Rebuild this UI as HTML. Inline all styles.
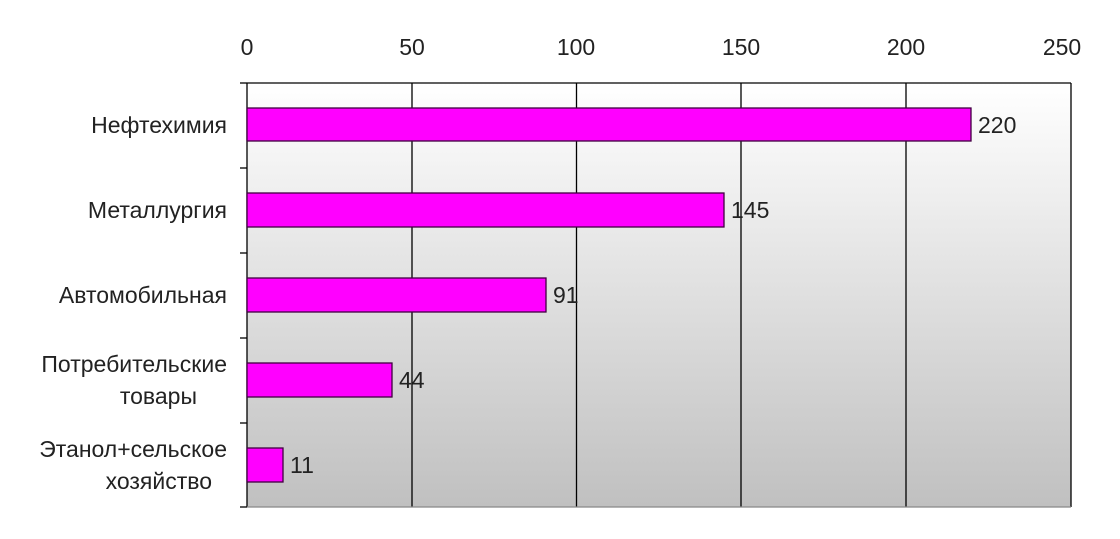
<!DOCTYPE html>
<html><head><meta charset="utf-8"><style>body{margin:0;background:#fff}</style></head><body>
<svg width="1120" height="534" xmlns="http://www.w3.org/2000/svg" font-family="Liberation Sans, sans-serif" font-size="23" fill="#222">
<defs><linearGradient id="g" x1="0" y1="0" x2="0" y2="1"><stop offset="0" stop-color="#ffffff"/><stop offset="1" stop-color="#c0c0c0"/></linearGradient></defs>
<rect x="247" y="83" width="824" height="424" fill="url(#g)"/>
<g stroke="#000" stroke-width="1.3">
<line x1="412" y1="83" x2="412" y2="507"/><line x1="576.5" y1="83" x2="576.5" y2="507"/><line x1="741" y1="83" x2="741" y2="507"/><line x1="906" y1="83" x2="906" y2="507"/><line x1="1071" y1="83" x2="1071" y2="507"/>
<line x1="247" y1="83" x2="1071" y2="83"/>
<line x1="247" y1="83" x2="247" y2="507"/>
<line x1="240" y1="83" x2="247" y2="83"/><line x1="240" y1="168" x2="247" y2="168"/><line x1="240" y1="253" x2="247" y2="253"/><line x1="240" y1="338" x2="247" y2="338"/><line x1="240" y1="423" x2="247" y2="423"/><line x1="240" y1="507" x2="247" y2="507"/>
</g>
<line x1="247" y1="507" x2="1071" y2="507" stroke="#888" stroke-width="1.3"/>
<g fill="#ff00ff" stroke="#400040" stroke-width="1.3">
<rect x="247" y="108" width="724" height="33"/>
<rect x="247" y="193" width="477" height="34"/>
<rect x="247" y="278" width="299" height="34"/>
<rect x="247" y="363" width="145" height="34"/>
<rect x="247" y="448" width="36" height="34"/>
</g>
<g text-anchor="middle">
<text x="247" y="55">0</text><text x="412" y="55">50</text><text x="576" y="55">100</text><text x="741" y="55">150</text><text x="906" y="55">200</text><text x="1062" y="55">250</text>
</g>
<g>
<text x="978" y="133">220</text><text x="731" y="218">145</text><text x="553" y="303">91</text><text x="399" y="388">44</text><text x="290" y="473">11</text>
</g>
<g text-anchor="end">
<text x="227" y="133">Нефтехимия</text>
<text x="227" y="218">Металлургия</text>
<text x="227" y="303">Автомобильная</text>
<text x="227" y="372">Потребительские</text><text x="197" y="404">товары</text>
<text x="227" y="457">Этанол+сельское</text><text x="212" y="489">хозяйство</text>
</g>
</svg>
</body></html>
